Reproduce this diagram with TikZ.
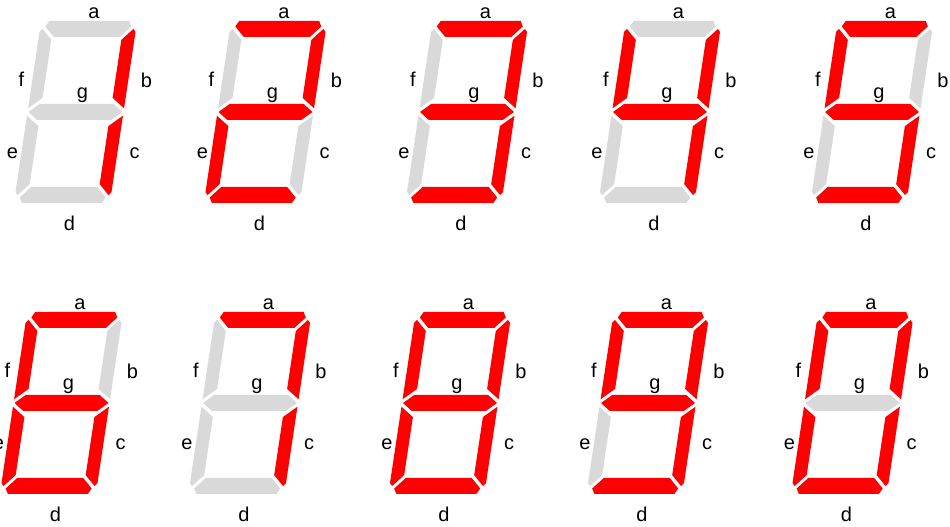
\documentclass[tikz,border=0pt]{standalone}
\usepackage{fontspec}
\setmainfont{Liberation Sans}
\definecolor{ledred}{RGB}{255,0,0}
\definecolor{ledgrey}{RGB}{217,217,217}

\begin{document}
\begin{tikzpicture}[x=1pt,y=1pt,
      lit/.style={fill=ledred},
      unlit/.style={fill=ledgrey},
      lbl/.style={inner sep=0pt,font=\fontsize{20}{24}\selectfont},
      pics/digit/.style n args={7}{code={
        \begin{scope}[xslant=0.15]
          \fill[#1] (-40,91) -- (40,91) -- (43,85.5) -- (33,75) -- (-33,75) -- (-43,85.5) -- cycle;
          \fill[#2] (48,80) -- (45.5,83.1) -- (35,72.1) -- (35,14.1) -- (48,3.7) -- cycle;
          \fill[#3] (48,-80) -- (45.5,-83.1) -- (35,-72.1) -- (35,-14.1) -- (48,-3.7) -- cycle;
          \fill[#4] (-40,-91) -- (40,-91) -- (43,-85.5) -- (33,-75) -- (-33,-75) -- (-43,-85.5) -- cycle;
          \fill[#5] (-48,-80) -- (-45.5,-83.1) -- (-35,-72.1) -- (-35,-14.1) -- (-48,-3.7) -- cycle;
          \fill[#6] (-48,80) -- (-45.5,83.1) -- (-35,72.1) -- (-35,14.1) -- (-48,3.7) -- cycle;
          \fill[#7] (-47,0) -- (-37,8) -- (37,8) -- (47,0) -- (37,-8) -- (-37,-8) -- cycle;
        \end{scope}
        \node[lbl] (-a) at (18.5,99)   {a};
        \node[lbl] (-b) at (71,31.5)   {b};
        \node[lbl] (-c) at (59,-41)    {c};
        \node[lbl] (-d) at (-6,-111)   {d};
        \node[lbl] (-e) at (-63,-41.5) {e};
        \node[lbl] (-f) at (-54,33)    {f};
        \node[lbl] (-g) at (7,16.5)    {g};
      }}]
    \useasboundingbox (0,0) rectangle (950,527);
    \clip (0,0) rectangle (950,527);
    % top row: 1 to 5
    \pic (one)   at (75.5,415)  {digit={unlit}{lit}{lit}{unlit}{unlit}{unlit}{unlit}};
    \pic (two)   at (265.5,415) {digit={lit}{lit}{unlit}{lit}{lit}{unlit}{lit}};
    \pic (three) at (467,415)   {digit={lit}{lit}{lit}{lit}{unlit}{unlit}{lit}};
    \pic (four)  at (660,415)   {digit={unlit}{lit}{lit}{unlit}{unlit}{lit}{lit}};
    \pic (five)  at (872,415)   {digit={lit}{unlit}{lit}{lit}{unlit}{lit}{lit}};
    % bottom row: 6 to 9, then 0
    \pic (six)   at (61.5,124)  {digit={lit}{unlit}{lit}{lit}{lit}{lit}{lit}};
    \pic (seven) at (250,124)   {digit={lit}{lit}{lit}{unlit}{unlit}{unlit}{unlit}};
    \pic (eight) at (450,124)   {digit={lit}{lit}{lit}{lit}{lit}{lit}{lit}};
    \pic (nine)  at (648,124)   {digit={lit}{lit}{lit}{lit}{unlit}{lit}{lit}};
    \pic (zero)  at (852.5,124) {digit={lit}{lit}{lit}{lit}{lit}{lit}{unlit}};
  \end{tikzpicture}
\end{document}
